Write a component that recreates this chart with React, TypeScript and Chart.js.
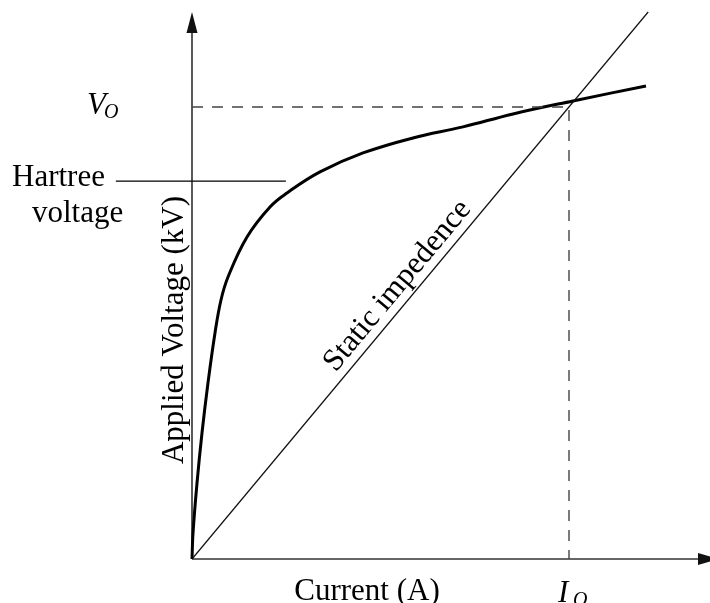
import React, { useEffect, useRef } from "react";
import { Chart, registerables } from "chart.js";

Chart.register(...registerables);

// Applied voltage (kV) vs current (A), arbitrary units where I_O = V_O = 10
const curveCurrent = [0, 0.027, 0.133, 0.265, 0.424, 0.61, 0.769, 0.955, 1.459, 2.069, 2.52, 3.395, 4.536, 5.862, 7.188, 8.515, 10.106, 12.042];
const curveVoltage = [0, 0.575, 1.681, 2.788, 3.894, 5.0, 5.73, 6.239, 7.124, 7.788, 8.097, 8.562, 8.982, 9.314, 9.558, 9.845, 10.133, 10.465];
const impedanceCurrent = [0, 12.1];
const impedanceVoltage = [0, 12.1];
const operatingCurrent = 10; // I_O
const operatingVoltage = 10; // V_O
const hartreeVoltage = 8.36;
const hartreeLineCurrent = [-2.02, 2.49];
const xMax = 13.74;
const yMax = 12.1;
const impedanceLabelAt = 5.8;

const FONT = "'Liberation Serif', 'Times New Roman', serif";

const annotations = {
  id: "annotations",
  beforeDatasetsDraw(chart: any) {
    const { ctx, chartArea, scales } = chart;
    const x0 = scales.x.getPixelForValue(0);
    const y0 = scales.y.getPixelForValue(0);
    ctx.save();
    // x axis
    ctx.strokeStyle = "#333";
    ctx.fillStyle = "#111";
    ctx.lineWidth = 1.6;
    ctx.beginPath();
    ctx.moveTo(x0, y0);
    ctx.lineTo(chartArea.right - 12, y0);
    ctx.stroke();
    ctx.beginPath();
    ctx.moveTo(chartArea.right - 12, y0 - 6);
    ctx.lineTo(chartArea.right + 9, y0);
    ctx.lineTo(chartArea.right - 12, y0 + 6);
    ctx.closePath();
    ctx.fill();
    // y axis
    ctx.strokeStyle = "#000";
    ctx.lineWidth = 1.3;
    ctx.beginPath();
    ctx.moveTo(x0, y0);
    ctx.lineTo(x0, chartArea.top + 21);
    ctx.stroke();
    ctx.beginPath();
    ctx.moveTo(x0 - 5.5, chartArea.top + 21);
    ctx.lineTo(x0, chartArea.top);
    ctx.lineTo(x0 + 5.5, chartArea.top + 21);
    ctx.closePath();
    ctx.fill();
    ctx.restore();
  },
  afterDatasetsDraw(chart: any) {
    const { ctx, scales } = chart;
    const x0 = scales.x.getPixelForValue(0);
    const y0 = scales.y.getPixelForValue(0);
    ctx.save();
    ctx.fillStyle = "#000";
    ctx.textBaseline = "alphabetic";
    // Hartree voltage
    const hy = scales.y.getPixelForValue(hartreeVoltage);
    ctx.font = `31px ${FONT}`;
    ctx.textAlign = "left";
    ctx.fillText("Hartree", x0 - 180, hy + 5);
    ctx.fillText("voltage", x0 - 160, hy + 41);
    // V_O
    const vy = scales.y.getPixelForValue(operatingVoltage);
    ctx.font = `italic 31px ${FONT}`;
    ctx.fillText("V", x0 - 105, vy + 7);
    ctx.font = `italic 20px ${FONT}`;
    ctx.fillText("O", x0 - 88, vy + 11);
    // I_O
    const ix = scales.x.getPixelForValue(operatingCurrent);
    ctx.font = `italic 31px ${FONT}`;
    ctx.fillText("I", ix - 11, y0 + 43);
    ctx.font = `italic 20px ${FONT}`;
    ctx.fillText("O", ix + 4, y0 + 47);
    // x title
    ctx.font = `31px ${FONT}`;
    ctx.textAlign = "center";
    ctx.fillText("Current (A)", 367, y0 + 41);
    // y title
    ctx.save();
    ctx.translate(x0 - 9, 330);
    ctx.rotate(-Math.PI / 2);
    ctx.fillText("Applied Voltage (kV)", 0, 0);
    ctx.restore();
    // Static impedence label along the line
    const px = scales.x.getPixelForValue(impedanceLabelAt);
    const py = scales.y.getPixelForValue(impedanceLabelAt);
    const ex = scales.x.getPixelForValue(impedanceCurrent[1]);
    const ey = scales.y.getPixelForValue(impedanceVoltage[1]);
    const ang = Math.atan2(ey - y0, ex - x0);
    const nx = Math.sin(ang);
    const ny = -Math.cos(ang);
    ctx.save();
    ctx.translate(px + nx * 9, py + ny * 9);
    ctx.rotate(ang);
    ctx.textAlign = "center";
    ctx.fillText("Static impedence", 0, 0);
    ctx.restore();
    ctx.restore();
  },
};

export default function App() {
  const ref = useRef<HTMLCanvasElement>(null);
  useEffect(() => {
    if (!ref.current) return;
    const chart = new Chart(ref.current, {
      type: "scatter",
      data: {
        datasets: [
          {
            label: "Operating point",
            data: [
              { x: 0, y: operatingVoltage },
              { x: operatingCurrent, y: operatingVoltage },
              { x: operatingCurrent, y: 0 },
            ],
            showLine: true,
            borderColor: "#444",
            borderWidth: 1.4,
            borderDash: [11, 9],
            pointRadius: 0,
            tension: 0,
          },
          {
            label: "Hartree voltage",
            data: hartreeLineCurrent.map((x) => ({ x, y: hartreeVoltage })),
            showLine: true,
            borderColor: "#000",
            borderWidth: 1.3,
            pointRadius: 0,
            clip: false,
          },
          {
            label: "Static impedence",
            data: impedanceCurrent.map((x, i) => ({ x, y: impedanceVoltage[i] })),
            showLine: true,
            borderColor: "#111",
            borderWidth: 1.2,
            pointRadius: 0,
            clip: false,
          },
          {
            label: "V-I curve",
            data: curveCurrent.map((x, i) => ({ x, y: curveVoltage[i] })),
            showLine: true,
            borderColor: "#000",
            borderWidth: 3,
            pointRadius: 0,
            tension: 0.4,
            clip: false,
          },
        ],
      },
      options: {
        responsive: false,
        animation: false,
        events: [],
        layout: { padding: { left: 192, right: 0, top: 12, bottom: 44 }, autoPadding: false },
        scales: {
          x: { type: "linear", min: 0, max: xMax, display: false },
          y: { type: "linear", min: 0, max: yMax, display: false },
        },
        plugins: { legend: { display: false }, tooltip: { enabled: false } },
      },
      plugins: [annotations],
    });
    return () => chart.destroy();
  }, []);
  return (
    <div style={{ position: "absolute", left: 0, top: 0, width: 710, height: 603, background: "#fff" }}>
      <canvas ref={ref} width={710} height={603} style={{ display: "block" }} />
    </div>
  );
}
